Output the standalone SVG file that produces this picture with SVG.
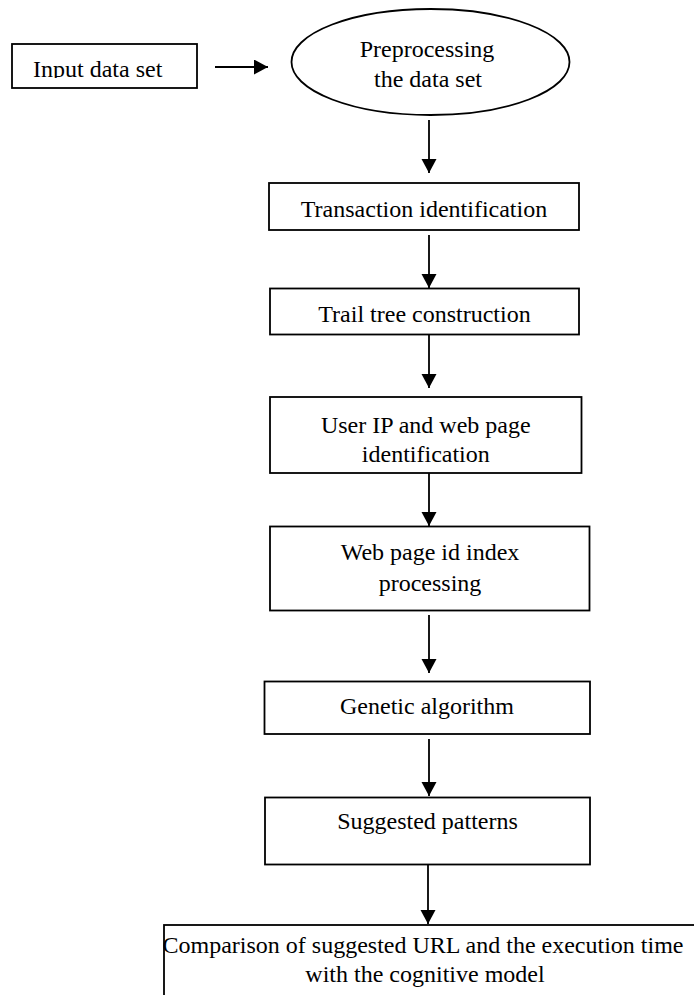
<svg xmlns="http://www.w3.org/2000/svg" width="694" height="995" viewBox="0 0 694 995">
<style>
.box{fill:#fff;stroke:#000;stroke-width:1.8}
.t{font-family:"Liberation Serif","Times New Roman",serif;font-size:24px;fill:#000;text-anchor:middle}
.c{stroke:#000;stroke-width:1.8;fill:none;marker-end:url(#ah)}
</style>
<defs>
<marker id="ah" markerUnits="userSpaceOnUse" markerWidth="15" markerHeight="16" refX="14" refY="7.5" orient="auto">
<path d="M0,0 L14,7.5 L0,15 z" fill="#000"/>
</marker>
<clipPath id="clipIn"><rect x="12" y="44" width="185" height="34"/></clipPath>
</defs>
<rect width="694" height="995" fill="#fff"/>
<g id="connectors">
<line class="c" x1="215" y1="67" x2="268" y2="67"/>
<line class="c" x1="429" y1="120" x2="429" y2="173"/>
<line class="c" x1="429" y1="235" x2="429" y2="288"/>
<line class="c" x1="429" y1="335" x2="429" y2="388"/>
<line class="c" x1="429" y1="473" x2="429" y2="526"/>
<line class="c" x1="429" y1="615" x2="429" y2="673"/>
<line class="c" x1="429" y1="739" x2="429" y2="796"/>
<line class="c" x1="428" y1="865" x2="428" y2="924"/>
</g>
<g id="input">
<rect class="box" x="12" y="44" width="185" height="44"/>
<text class="t" x="33" y="77" style="text-anchor:start" clip-path="url(#clipIn)">Input data set</text>
</g>
<g id="preprocessing">
<ellipse class="box" cx="430.5" cy="62" rx="139" ry="53"/>
<text class="t" x="427" y="57">Preprocessing</text>
<text class="t" x="428" y="87">the data set</text>
</g>
<g id="transaction">
<rect class="box" x="269" y="183" width="310" height="47"/>
<text class="t" x="424" y="216.5">Transaction identification</text>
</g>
<g id="trail">
<rect class="box" x="270" y="288.5" width="309" height="46"/>
<text class="t" x="424.5" y="321.5">Trail tree construction</text>
</g>
<g id="userip">
<rect class="box" x="270" y="397" width="311.5" height="76"/>
<text class="t" x="425.8" y="433">User IP and web page</text>
<text class="t" x="425.8" y="461.5">identification</text>
</g>
<g id="webpage">
<rect class="box" x="270" y="526.5" width="319.5" height="84"/>
<text class="t" x="430" y="560">Web page id index</text>
<text class="t" x="430" y="590.5">processing</text>
</g>
<g id="genetic">
<rect class="box" x="264.5" y="681.5" width="325.5" height="52.5"/>
<text class="t" x="427" y="714.3">Genetic algorithm</text>
</g>
<g id="suggested">
<rect class="box" x="265" y="797.5" width="325" height="67"/>
<text class="t" x="427.5" y="829.3">Suggested patterns</text>
</g>
<g id="comparison">
<rect class="box" x="164" y="925" width="600" height="100"/>
<text class="t" x="423" y="953">Comparison of suggested URL and the execution time</text>
<text class="t" x="425" y="982">with the cognitive model</text>
</g>
</svg>
